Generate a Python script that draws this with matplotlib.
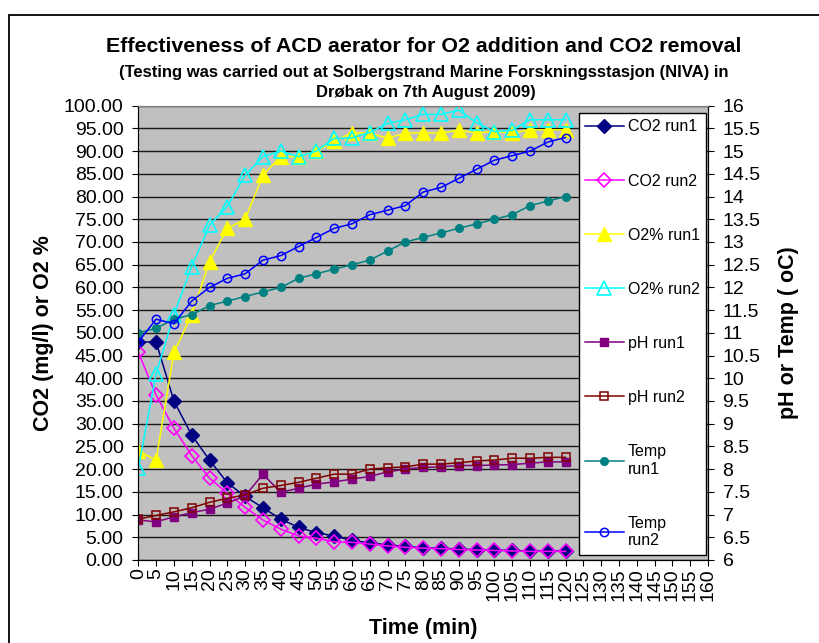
import numpy as np
import matplotlib
matplotlib.use("Agg")
import matplotlib.pyplot as plt
from matplotlib.patches import Rectangle
from matplotlib.ticker import FuncFormatter

plt.rcParams['font.family'] = ['Liberation Sans', 'DejaVu Sans']

# ---------------- data ----------------
time_min = [0, 5, 10, 15, 20, 25, 30, 35, 40, 45, 50, 55, 60, 65, 70, 75, 80,
            85, 90, 95, 100, 105, 110, 115, 120]

co2_run1 = [48, 48, 35, 27.5, 22, 17, 14, 11.5, 9, 7.2, 6, 5.3, 4.3, 3.8, 3.3,
            3.0, 2.7, 2.6, 2.4, 2.3, 2.2, 2.1, 2.0, 2.0, 2.0]
co2_run2 = [45.7, 36.3, 29, 23, 18, 14.7, 11.6, 8.8, 6.8, 5.3, 4.8, 4.0, 3.9,
            3.5, 3.1, 2.8, 2.6, 2.5, 2.3, 2.2, 2.1, 2.0, 1.9, 1.9, 1.9]
o2_run1 = [24, 22, 45.7, 54, 65.7, 73, 75, 84.7, 88.8, 88.8, 90, 92.2, 94, 94,
           92.8, 94, 94, 94, 94.6, 94, 94.3, 94, 94.7, 94.7, 94.7]
o2_run2 = [20.2, 41, 54, 64.6, 73.7, 77.8, 84.7, 88.8, 90, 88.8, 90, 92.8, 92.9,
           94.1, 96.1, 96.9, 98.1, 98.1, 99, 96.3, 94.3, 94.6, 96.9, 96.9, 96.9]
ph_run1 = [6.88, 6.84, 6.95, 7.04, 7.12, 7.25, 7.41, 7.89, 7.49, 7.58, 7.67,
           7.72, 7.78, 7.84, 7.94, 8.0, 8.04, 8.05, 8.08, 8.08, 8.09, 8.10,
           8.13, 8.16, 8.16]
ph_run2 = [6.90, 6.98, 7.06, 7.15, 7.27, 7.36, 7.43, 7.58, 7.64, 7.71, 7.80,
           7.89, 7.89, 8.0, 8.03, 8.05, 8.11, 8.11, 8.14, 8.18, 8.20, 8.24,
           8.24, 8.26, 8.26]
temp_run1 = [11.0, 11.1, 11.3, 11.4, 11.6, 11.7, 11.8, 11.9, 12.0, 12.2, 12.3,
             12.4, 12.5, 12.6, 12.8, 13.0, 13.1, 13.2, 13.3, 13.4, 13.5, 13.6,
             13.8, 13.9, 14.0]
temp_run2 = [10.8, 11.3, 11.2, 11.7, 12.0, 12.2, 12.3, 12.6, 12.7, 12.9, 13.1,
             13.3, 13.4, 13.6, 13.7, 13.8, 14.1, 14.2, 14.4, 14.6, 14.8, 14.9,
             15.0, 15.2, 15.3]

x_ticks = list(range(0, 161, 5))
left_ticks = list(range(0, 101, 5))
right_ticks = [6 + 0.5 * i for i in range(21)]

title = "Effectiveness of ACD aerator for O2 addition and CO2 removal"
subtitle_1 = "(Testing was carried out at Solbergstrand Marine Forskningsstasjon (NIVA) in"
subtitle_2 = "Drøbak on 7th August 2009)"

# ---------------- figure ----------------
W, H = 819, 643
fig = plt.figure(figsize=(W / 100, H / 100), dpi=100)

# outer chart border
fig.patches.append(Rectangle((9 / W, -0.05), 1.2, 1 - 15 / H + 0.05,
                             transform=fig.transFigure, fill=False,
                             edgecolor='black', lw=1.3, clip_on=False))

L, R, T, B = 138.3, 708, 105.7, 560
ax = fig.add_axes([L / W, 1 - B / H, (R - L) / W, (B - T) / H])
ax.set_facecolor('#C0C0C0')
ax.set_xlim(0, 160)
ax.set_ylim(0, 100)
ax2 = ax.twinx()
ax2.set_ylim(6, 16)

ax.set_yticks(left_ticks)
ax.yaxis.set_major_formatter(FuncFormatter(lambda v, p: f"{v:.2f}"))
ax.set_xticks(x_ticks)
ax.set_xticklabels([str(t) for t in x_ticks], rotation=90)
ax2.set_yticks(right_ticks)
ax2.yaxis.set_major_formatter(FuncFormatter(lambda v, p: f"{v:g}"))

ax.yaxis.grid(True, color='#1a1a1a', lw=1.0)
ax.set_axisbelow(True)

ax.tick_params(axis='y', labelsize=14, length=4.5, pad=6, direction='out')
ax.tick_params(axis='x', labelsize=14, length=4.5, pad=1.5, direction='out')
ax2.tick_params(axis='y', labelsize=14, length=4.5, pad=6, direction='out')

for a in (ax, ax2):
    a.spines['top'].set_color('#808080')
    a.spines['left'].set_color('black')
    a.spines['right'].set_color('black')
    a.spines['bottom'].set_color('black')

lw = 1.1
h1, = ax.plot(time_min, co2_run1, color='#000080', marker='D', ms=7.2, lw=lw,
              mfc='#000080', mec='#000080', label='CO2 run1')
h2, = ax.plot(time_min, co2_run2, color='#FF00FF', marker='D', ms=7.5, lw=lw,
              mfc='none', mec='#FF00FF', mew=1.2, label='CO2 run2')
h3, = ax.plot(time_min, o2_run1, color='#FFFF00', marker='^', ms=10, lw=lw,
              mfc='#FFFF00', mec='#FFFF00', label='O2% run1')
h4, = ax.plot(time_min, o2_run2, color='#00FFFF', marker='^', ms=10, lw=lw,
              mfc='none', mec='#00FFFF', mew=1.2, label='O2% run2')
h5, = ax2.plot(time_min, ph_run1, color='#800080', marker='s', ms=5.5, lw=lw,
               mfc='#800080', mec='#800080', label='pH run1')
h6, = ax2.plot(time_min, ph_run2, color='#800000', marker='s', ms=6, lw=lw,
               mfc='none', mec='#800000', mew=1.1, label='pH run2')
h7, = ax2.plot(time_min, temp_run1, color='#008080', marker='o', ms=5.5, lw=lw,
               mfc='#008080', mec='#008080', label='Temp\nrun1')
h8, = ax2.plot(time_min, temp_run2, color='#0000FF', marker='o', ms=6, lw=lw,
               mfc='none', mec='#0000FF', mew=1.1, label='Temp\nrun2')

leg = ax2.legend(handles=[h1, h2, h3, h4, h5, h6, h7, h8],
                 loc='upper right', bbox_to_anchor=(706 / W, 1 - 113 / H),
                 bbox_transform=fig.transFigure, fontsize=11.5,
                 handlelength=2.4, handletextpad=0.25, borderpad=0.4,
                 labelspacing=2.45, fancybox=False, framealpha=1,
                 edgecolor='black', borderaxespad=0)
leg.get_frame().set_linewidth(1.0)

ax.set_ylabel("CO2 (mg/l) or O2 %", fontsize=15.5, fontweight='bold')
ax.yaxis.set_label_coords((54 - L) / (R - L), 0.5)
ax2.set_ylabel("pH or Temp ( oC)", fontsize=15.5, fontweight='bold')
ax2.yaxis.set_label_coords((778 - L) / (R - L), 0.5)
ax.set_xlabel("Time (min)", fontsize=15.5, fontweight='bold')
ax.xaxis.set_label_coords(0.5, (B - 618) / (B - T))

fig.text(424 / W, 1 - 47 / H, title, ha='center', va='center',
         fontsize=15.4, fontweight='bold')
fig.text(424 / W, 1 - 72 / H, subtitle_1, ha='center', va='center',
         fontsize=12, fontweight='bold')
fig.text(426 / W, 1 - 92 / H, subtitle_2, ha='center', va='center',
         fontsize=12, fontweight='bold')

fig.savefig("out.png", dpi=100)
